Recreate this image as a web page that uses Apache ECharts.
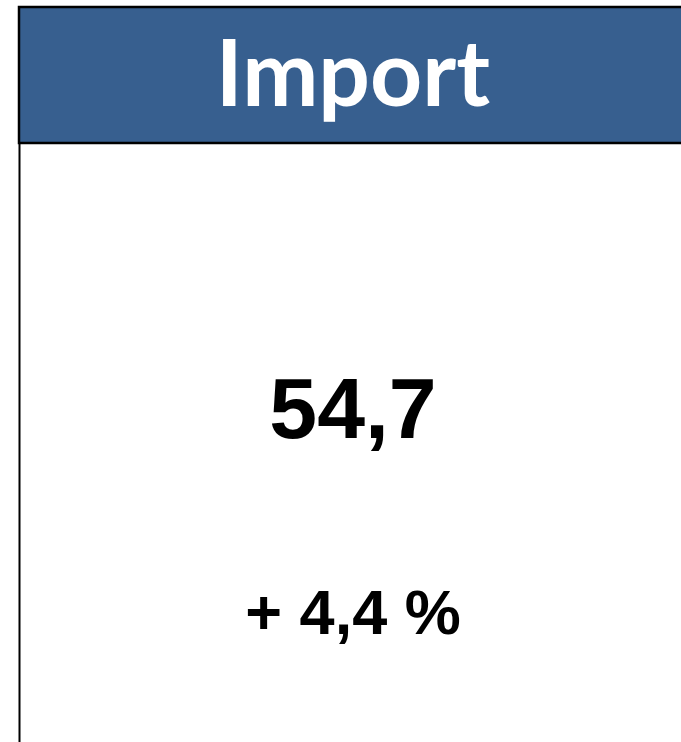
<!DOCTYPE html>
<html>
<head>
<meta charset="utf-8">
<script src="https://cdn.jsdelivr.net/npm/echarts@6/dist/echarts.min.js"></script>
<style>
html,body{margin:0;padding:0;background:#fff;}
#chart{width:681px;height:742px;}
</style>
</head>
<body>
<div id="chart"></div>
<script>
const titles = ["Import"];
const values = ["54,7"];
const changes = ["+ 4,4 %"];

const chart = echarts.init(document.getElementById('chart'), null, {renderer: 'canvas'});
const cx = 353;
chart.setOption({
  backgroundColor: '#ffffff',
  animation: false,
  graphic: [
    { type: 'rect', shape: {x: 19, y: 7, width: 680, height: 136},
      style: {fill: '#375F8F', stroke: '#000', lineWidth: 2.5} },
    { type: 'line', shape: {x1: 19.5, y1: 143, x2: 19.5, y2: 742},
      style: {stroke: '#000', lineWidth: 2} },
    { type: 'text', x: cx, y: 77,
      style: {text: titles[0], fill: '#ffffff', font: 'bold 91px Lato, "Open Sans", sans-serif',
        textAlign: 'center', textVerticalAlign: 'middle',
        shadowColor: 'rgba(0,0,0,0.45)', shadowBlur: 4, shadowOffsetX: 1, shadowOffsetY: 2} },
    { type: 'text', x: cx, y: 414,
      style: {text: values[0], fill: '#000', font: 'bold 86px "Liberation Sans", Arial, sans-serif',
        textAlign: 'center', textVerticalAlign: 'middle'} },
    { type: 'text', x: cx, y: 617,
      style: {text: changes[0], fill: '#000', font: 'bold 63px "Liberation Sans", Arial, sans-serif',
        textAlign: 'center', textVerticalAlign: 'middle'} }
  ]
});
</script>
</body>
</html>
